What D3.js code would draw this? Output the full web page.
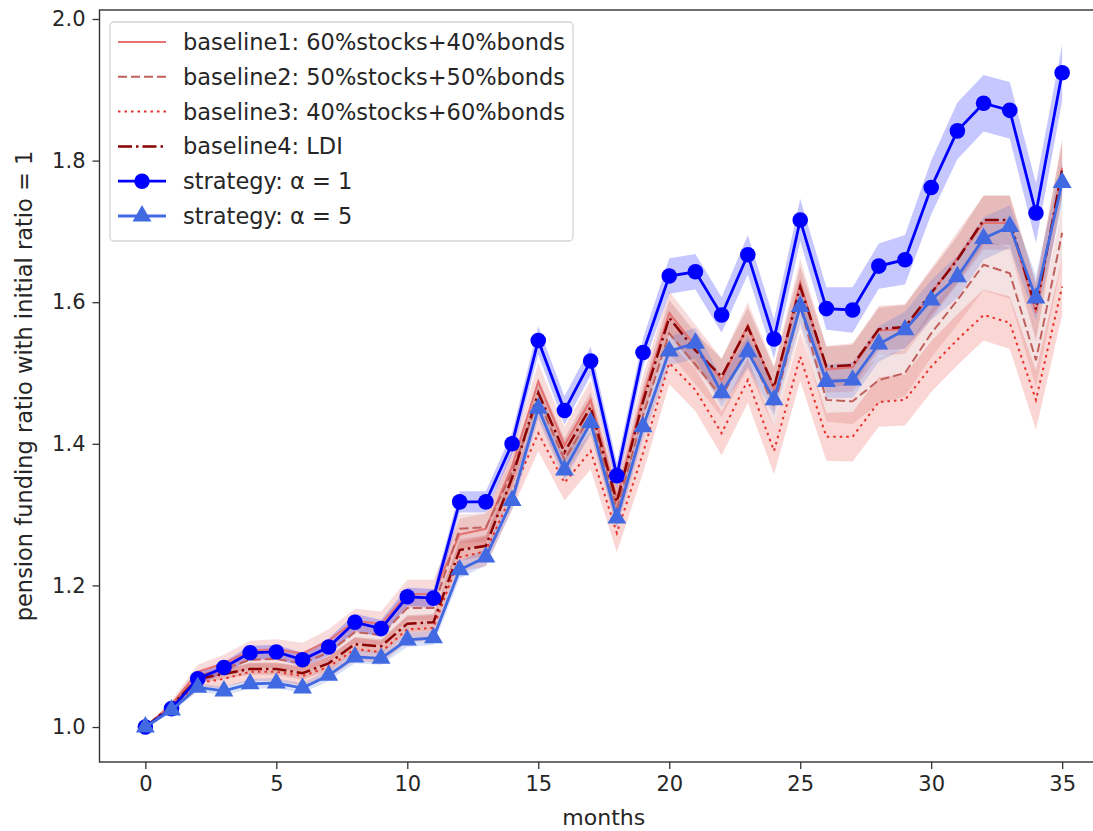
<html>
<head>
<meta charset="utf-8">
<title>pension funding ratio</title>
<style>
  body { margin: 0; background: #fff; }
  text { font-family: "DejaVu Sans", sans-serif; fill: #262626; }
</style>
</head>
<body>
<svg id="chart" width="1093" height="831"></svg>
<script src="https://cdn.jsdelivr.net/npm/d3@7"></script>
<script>
// months 0..35
var months = d3.range(0, 36);

// mean values
var baseline1 = [1.000,1.032,1.078,1.090,1.108,1.110,1.104,1.122,1.150,1.146,1.188,1.188,1.272,1.280,1.368,1.488,1.398,1.462,1.322,1.468,1.585,1.538,1.490,1.568,1.478,1.628,1.505,1.508,1.560,1.562,1.612,1.662,1.712,1.712,1.585,1.790];
var baseline2 = [1.000,1.030,1.072,1.082,1.095,1.096,1.090,1.105,1.134,1.130,1.168,1.168,1.280,1.282,1.360,1.462,1.378,1.440,1.308,1.440,1.556,1.512,1.466,1.536,1.452,1.594,1.462,1.460,1.490,1.500,1.556,1.603,1.653,1.641,1.518,1.698];
var baseline3 = [1.000,1.027,1.062,1.068,1.078,1.078,1.072,1.085,1.110,1.106,1.138,1.140,1.240,1.248,1.330,1.415,1.345,1.390,1.274,1.387,1.514,1.476,1.415,1.490,1.390,1.523,1.410,1.410,1.459,1.462,1.509,1.547,1.582,1.571,1.462,1.622];
var baseline4 = [1.000,1.030,1.068,1.075,1.082,1.082,1.076,1.090,1.117,1.114,1.146,1.148,1.250,1.256,1.352,1.472,1.388,1.452,1.318,1.460,1.578,1.532,1.495,1.565,1.480,1.622,1.509,1.511,1.562,1.565,1.613,1.660,1.716,1.716,1.590,1.787];
var strategy1 = [1.000,1.026,1.068,1.084,1.105,1.106,1.095,1.113,1.148,1.139,1.184,1.182,1.318,1.318,1.400,1.546,1.447,1.517,1.355,1.529,1.637,1.643,1.582,1.667,1.548,1.716,1.591,1.589,1.651,1.660,1.762,1.842,1.881,1.871,1.726,1.924];
var strategy5 = [1.000,1.024,1.056,1.051,1.061,1.062,1.055,1.073,1.099,1.097,1.123,1.126,1.222,1.240,1.320,1.450,1.363,1.430,1.295,1.424,1.531,1.542,1.472,1.530,1.462,1.594,1.488,1.490,1.541,1.561,1.603,1.636,1.690,1.707,1.606,1.769];

// half widths of the shaded bands
var sdBaseline1 = [0,0.005,0.010,0.012,0.014,0.014,0.015,0.016,0.017,0.017,0.020,0.020,0.022,0.022,0.024,0.026,0.026,0.027,0.027,0.028,0.030,0.030,0.030,0.032,0.032,0.033,0.033,0.034,0.035,0.035,0.036,0.037,0.038,0.038,0.040,0.040];
var sdBaseline2 = [0,0.004,0.008,0.010,0.012,0.012,0.013,0.014,0.015,0.015,0.017,0.017,0.020,0.020,0.022,0.024,0.024,0.025,0.025,0.026,0.028,0.028,0.028,0.030,0.030,0.031,0.031,0.032,0.033,0.033,0.034,0.035,0.036,0.036,0.038,0.038];
var sdBaseline3 = [0,0.005,0.010,0.012,0.013,0.013,0.014,0.015,0.016,0.016,0.018,0.018,0.021,0.021,0.023,0.025,0.025,0.026,0.027,0.028,0.030,0.030,0.031,0.032,0.033,0.034,0.034,0.035,0.035,0.036,0.036,0.036,0.036,0.037,0.042,0.040];
var sdBaseline4 = [0,0.003,0.006,0.007,0.008,0.008,0.009,0.010,0.010,0.010,0.012,0.012,0.015,0.015,0.017,0.020,0.020,0.021,0.021,0.022,0.025,0.025,0.025,0.027,0.027,0.028,0.028,0.029,0.030,0.031,0.032,0.033,0.035,0.035,0.038,0.040];
var sdStrategy1 = [0,0.004,0.008,0.008,0.010,0.010,0.010,0.012,0.012,0.012,0.013,0.013,0.015,0.015,0.016,0.020,0.020,0.020,0.018,0.020,0.025,0.025,0.025,0.028,0.028,0.030,0.030,0.032,0.032,0.035,0.038,0.040,0.040,0.040,0.042,0.040];
var sdStrategy5 = [0,0.003,0.006,0.006,0.007,0.007,0.007,0.008,0.009,0.009,0.010,0.010,0.012,0.012,0.013,0.015,0.015,0.016,0.015,0.017,0.020,0.022,0.020,0.022,0.022,0.024,0.024,0.025,0.025,0.026,0.028,0.030,0.030,0.030,0.032,0.032];

var legendLabels = ["baseline1: 60%stocks+40%bonds", "baseline2: 50%stocks+50%bonds",
                    "baseline3: 40%stocks+60%bonds", "baseline4: LDI",
                    "strategy: α = 1", "strategy: α = 5"];
var xTicks = [0, 5, 10, 15, 20, 25, 30, 35];
var yTicks = [1.0, 1.2, 1.4, 1.6, 1.8, 2.0];

var series = [
  {mean: baseline1, sd: sdBaseline1, color: "#e57373", dash: null,            width: 2,   band: 0.25},
  {mean: baseline2, sd: sdBaseline2, color: "#c0605c", dash: "9,4",           width: 2,   band: 0.18},
  {mean: baseline3, sd: sdBaseline3, color: "#e8302a", dash: "2.5,4",         width: 2,   band: 0.2},
  {mean: baseline4, sd: sdBaseline4, color: "#8b0000", dash: "14,4,2.5,4",    width: 2.5, band: 0.15},
  {mean: strategy1, sd: sdStrategy1, color: "#0000ff", dash: null,            width: 2.8, band: 0.22, marker: "circle"},
  {mean: strategy5, sd: sdStrategy5, color: "#4169e1", dash: null,            width: 2.8, band: 0.2, marker: "triangle"}
];

// plot box (right edge lies past the window, as in the reference)
var plotL = 99.5, plotT = 10, plotR = 1108, plotB = 762;
var svg = d3.select("#chart");

var x = d3.scaleLinear().domain([-1.75, 36.75]).range([plotL, plotR]);
var y = d3.scaleLinear().domain([0.9506, 2.0127]).range([plotB, plotT]);

// bands
series.forEach(function(s) {
  var area = d3.area()
    .x(function(d, i) { return x(months[i]); })
    .y0(function(d, i) { return y(d - s.sd[i]); })
    .y1(function(d, i) { return y(d + s.sd[i]); });
  svg.append("path").datum(s.mean)
    .attr("d", area)
    .attr("fill", s.color)
    .attr("fill-opacity", s.band);
});

// lines and markers
var line = d3.line()
  .x(function(d, i) { return x(months[i]); })
  .y(function(d) { return y(d); });

var tri = d3.symbol().type(d3.symbolTriangle).size(155);

series.forEach(function(s) {
  svg.append("path").datum(s.mean)
    .attr("d", line)
    .attr("fill", "none")
    .attr("stroke", s.color)
    .attr("stroke-width", s.width)
    .attr("stroke-dasharray", s.dash);
  if (s.marker == "circle") {
    svg.selectAll(null).data(s.mean).enter().append("circle")
      .attr("cx", function(d, i) { return x(months[i]); })
      .attr("cy", function(d) { return y(d); })
      .attr("r", 7.8)
      .attr("fill", s.color);
  } else if (s.marker == "triangle") {
    svg.selectAll(null).data(s.mean).enter().append("path")
      .attr("d", tri)
      .attr("transform", function(d, i) { return "translate(" + x(months[i]) + "," + y(d) + ")"; })
      .attr("fill", s.color);
  }
});

// frame
svg.append("rect")
  .attr("x", plotL).attr("y", plotT)
  .attr("width", plotR - plotL).attr("height", plotB - plotT)
  .attr("fill", "none").attr("stroke", "#333").attr("stroke-width", 1.4);

// axes
var xAxis = svg.append("g").attr("transform", "translate(0," + plotB + ")")
  .call(d3.axisBottom(x).tickValues(xTicks).tickSize(7).tickPadding(7));
var yAxis = svg.append("g").attr("transform", "translate(" + plotL + ",0)")
  .call(d3.axisLeft(y).tickValues(yTicks).tickFormat(d3.format(".1f")).tickSize(7).tickPadding(7));
[xAxis, yAxis].forEach(function(a) {
  a.select(".domain").remove();
  a.selectAll("line").attr("stroke", "#333").attr("stroke-width", 1.3);
  a.selectAll("text").style("font-size", "21px").style("font-family", "DejaVu Sans").attr("fill", "#262626");
});

svg.append("text")
  .attr("x", (plotL + plotR) / 2).attr("y", 825)
  .attr("text-anchor", "middle")
  .style("font-size", "22px")
  .text("months");

svg.append("text")
  .attr("transform", "translate(32," + ((plotT + plotB) / 2) + ") rotate(-90)")
  .attr("text-anchor", "middle")
  .style("font-size", "22.5px")
  .text("pension funding ratio with initial ratio = 1");

// legend
var leg = svg.append("g");
leg.append("rect")
  .attr("x", 110).attr("y", 22).attr("width", 463).attr("height", 219)
  .attr("rx", 4)
  .attr("fill", "#fff").attr("fill-opacity", 0.8)
  .attr("stroke", "#d5d5d5").attr("stroke-width", 1.3);

series.forEach(function(s, i) {
  var cy = 42 + i * 34.8;
  leg.append("line")
    .attr("x1", 118).attr("x2", 166).attr("y1", cy).attr("y2", cy)
    .attr("stroke", s.color)
    .attr("stroke-width", s.width)
    .attr("stroke-dasharray", s.dash);
  if (s.marker == "circle") {
    leg.append("circle").attr("cx", 142).attr("cy", cy).attr("r", 7.8).attr("fill", s.color);
  } else if (s.marker == "triangle") {
    leg.append("path").attr("d", tri).attr("transform", "translate(142," + cy + ")").attr("fill", s.color);
  }
  leg.append("text")
    .attr("x", 183).attr("y", cy + 8)
    .style("font-size", "22.5px")
    .text(legendLabels[i]);
});
</script>
</body>
</html>
